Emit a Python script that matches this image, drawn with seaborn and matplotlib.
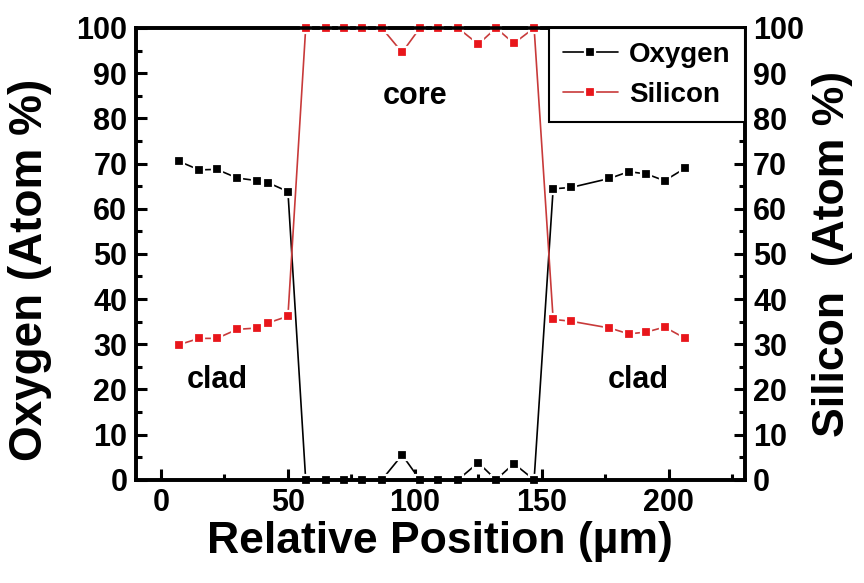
import numpy as np
import pandas as pd
import seaborn as sns
import matplotlib.pyplot as plt
from matplotlib.ticker import MultipleLocator

# Relative position across the waveguide (µm) and measured composition (atom %)
position = [7, 15, 22, 30, 38, 42, 50,
            57, 65, 72, 79, 87, 95, 102, 109, 117, 125, 132, 139, 147,
            154.5, 161.5, 176.7, 184.3, 191.2, 198.4, 206.6]
oxygen = [70.5, 68.6, 68.7, 66.8, 66.2, 65.8, 63.8,
          0, 0, 0, 0, 0, 5.5, 0, 0, 0, 3.8, 0, 3.6, 0,
          64.4, 64.7, 66.7, 68.2, 67.7, 66.2, 69.0]
silicon = [29.9, 31.3, 31.3, 33.3, 33.6, 34.7, 36.2,
           100, 100, 100, 100, 100, 94.6, 100, 100, 100, 96.4, 100, 96.6, 100,
           35.5, 35.1, 33.6, 32.3, 32.7, 33.8, 31.3]

x_ticks = [0, 50, 100, 150, 200]
y_ticks = list(range(0, 101, 10))

sns.set_theme(style="ticks")
plt.rcParams['font.family'] = ['Liberation Sans', 'DejaVu Sans']
plt.rcParams['font.weight'] = 'bold'
for key in ("text.color", "axes.labelcolor", "xtick.color", "ytick.color"):
    plt.rcParams[key] = "black"

df = pd.DataFrame({"position": position, "oxygen": oxygen, "silicon": silicon})

fig = plt.figure(figsize=(8.64, 5.83), dpi=100)
ax = fig.add_axes([0.157, 0.177, 0.705, 0.775])
ax2 = ax.twinx()

mk = dict(marker="s", markersize=7.5, markeredgecolor="white", markeredgewidth=1.6,
          linewidth=1.2, estimator=None, sort=False)
sns.lineplot(data=df, x="position", y="oxygen", ax=ax, color="black",
             markerfacecolor="black", label="Oxygen", legend=False, clip_on=False, **mk)
sns.lineplot(data=df, x="position", y="silicon", ax=ax2, color="#c83a3a",
             markerfacecolor="#e8161b", label="Silicon", legend=False, clip_on=False, **mk)

for a in (ax, ax2):
    a.set_xlim(-10, 230)
    a.set_ylim(0, 100)
    a.set_yticks(y_ticks)
    a.yaxis.set_minor_locator(MultipleLocator(5))
    for s in a.spines.values():
        s.set_linewidth(2.6)
        s.set_color("black")
        s.set_visible(True)
    a.set_zorder(1)

ax2.set_zorder(2)
ax2.patch.set_visible(False)

ax.set_xticks(x_ticks)
ax.xaxis.set_minor_locator(MultipleLocator(25))
ax.tick_params(axis="both", which="major", direction="in", length=8, width=2.2,
               labelsize=22, pad=6, top=False, right=False)
ax.tick_params(axis="both", which="minor", direction="in", length=4.5, width=2.2,
               top=False, right=False)
ax2.tick_params(axis="y", which="major", direction="in", length=8, width=2.2,
                labelsize=22, pad=6)
ax2.tick_params(axis="y", which="minor", direction="in", length=4.5, width=2.2)

for lab in ax.get_xticklabels() + ax.get_yticklabels() + ax2.get_yticklabels():
    lab.set_fontweight("bold")

ax.set_xlabel("Relative Position (µm)", fontsize=32, fontweight="bold", labelpad=2)
ax.set_ylabel("Oxygen (Atom %)", fontsize=33, fontweight="bold")
ax.yaxis.set_label_coords(-0.138, 0.465)
ax2.set_ylabel("Silicon  (Atom %)", fontsize=32, fontweight="bold", labelpad=6)

ax.text(100, 85, "core", ha="center", va="center", fontsize=22, fontweight="bold")
ax.text(22, 22, "clad", ha="center", va="center", fontsize=22, fontweight="bold")
ax.text(188, 22, "clad", ha="center", va="center", fontsize=22, fontweight="bold")

h1, l1 = ax.get_legend_handles_labels()
h2, l2 = ax2.get_legend_handles_labels()
leg = ax2.legend(h1 + h2, l1 + l2, loc="upper right", fontsize=20, frameon=True,
                 fancybox=False, edgecolor="black", framealpha=1, borderaxespad=0,
                 handlelength=2.0, handletextpad=0.4, borderpad=0.5, labelspacing=0.5)
leg.get_frame().set_linewidth(1.5)
for t in leg.get_texts():
    t.set_fontweight("bold")

fig.savefig("out.png", dpi=100)
